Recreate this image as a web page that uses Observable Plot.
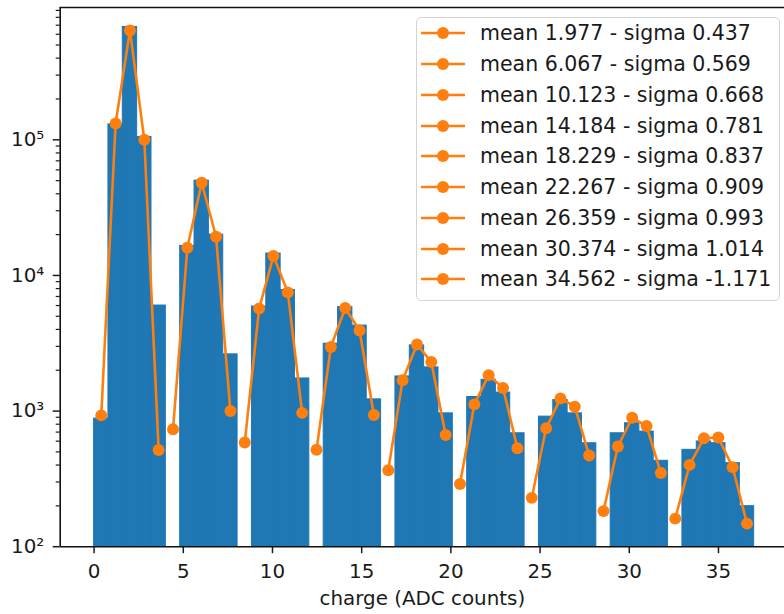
<!DOCTYPE html>
<html><head><meta charset="utf-8">
<script src="https://cdn.jsdelivr.net/npm/d3@7"></script>
<script src="https://cdn.jsdelivr.net/npm/@observablehq/plot@0.6"></script>
<style>
html,body{margin:0;padding:0;background:#fff;overflow:hidden;}
#wrap{position:relative;width:784px;height:614px;overflow:hidden;}
#legend{position:absolute;left:416px;top:17px;width:364px;height:284px;border:1px solid #d4d4d4;border-radius:5px;background:rgba(255,255,255,0.8);font-family:"DejaVu Sans";font-size:20.5px;color:#1a1a1a;box-sizing:border-box;padding-top:0px;}
.row{height:30.75px;display:flex;align-items:center;white-space:nowrap;}
.row svg{margin-left:4px;margin-right:15px;flex:none;}
</style></head><body><div id="wrap"><div id="chart"></div><div id="legend"></div></div>
<script>
// histogram definition
const nBins = 46;
const histRange = [0, 37];
// counts per bin (0 = empty bin)
const binCounts = [
  880, 130000, 680000, 105000, 6000,
  0, 16500, 50000, 20000, 2620,
  0, 5900, 14500, 7800, 1740,
  0, 3140, 5840, 4270, 1220,
  0, 1800, 3050, 2100, 962,
  0, 1270, 1700, 1370, 686,
  0, 910, 1205, 962, 579,
  0, 686, 813, 706, 430,
  0, 518, 597, 580, 413, 199
];
// gaussian fits: bins used by each peak and fitted values
const peakBins = [
  [0,1,2,3,4],[5,6,7,8,9],[10,11,12,13,14],[15,16,17,18,19],[20,21,22,23,24],
  [25,26,27,28,29],[30,31,32,33,34],[35,36,37,38,39],[40,41,42,43,44,45]
];
const fitValues = [
  [930, 132000, 640000, 100000, 517],
  [734, 16000, 48200, 19300, 1000],
  [587, 5700, 13900, 7500, 970],
  [518, 2970, 5760, 3930, 935],
  [366, 1690, 3100, 2300, 667],
  [290, 1120, 1840, 1480, 532],
  [229, 746, 1240, 1077, 471],
  [183, 548, 893, 776, 349],
  [161, 401, 630, 638, 385, 148]
];
const fitMeans = ["1.977","6.067","10.123","14.184","18.229","22.267","26.359","30.374","34.562"];
const fitSigmas = ["0.437","0.569","0.668","0.781","0.837","0.909","0.993","1.014","-1.171"];
const xTicks = [0, 5, 10, 15, 20, 25, 30, 35];
const yMajorTicks = [1e2, 1e3, 1e4, 1e5];
const xLabel = "charge (ADC counts)";

const blue = "#1f77b4", orange = "#ff7f0e";
const binWidth = (histRange[1] - histRange[0]) / nBins;
const bars = binCounts.map((c, i) => ({x1: histRange[0] + i*binWidth, x2: histRange[0] + (i+1)*binWidth, count: c})).filter(d => d.count > 0);
const fits = [];
peakBins.forEach((bins, p) => bins.forEach((b, j) => fits.push({peak: p, x: histRange[0] + (b + 0.5)*binWidth, y: fitValues[p][j]})));

const xDomain = [-1.9, 38.7];
const yDomain = [100, 9.46e5];
const minorTicks = [];
for (const base of [1e2, 1e3, 1e4, 1e5]) for (let k = 2; k <= 9; k++) if (base*k <= yDomain[1]) minorTicks.push(base*k);
const sup = {"0":"⁰","1":"¹","2":"²","3":"³","4":"⁴","5":"⁵","6":"⁶"};
const fmt = d => "10" + String(Math.round(Math.log10(d))).split("").map(c => sup[c]).join("");

const chart = Plot.plot({
  width: 788, height: 614,
  marginLeft: 60, marginRight: 0, marginTop: 7, marginBottom: 65,
  style: {fontFamily: "DejaVu Sans", fontSize: "20px", color: "#1a1a1a", background: "white"},
  x: {domain: xDomain},
  y: {type: "log", domain: yDomain},
  marks: [
    Plot.rect(bars, {x1: "x1", x2: "x2", y1: () => yDomain[0], y2: "count", fill: blue, stroke: blue, strokeWidth: 1}),
    Plot.line(fits, {x: "x", y: "y", z: "peak", stroke: orange, strokeWidth: 2.6}),
    Plot.dot(fits, {x: "x", y: "y", r: 6, fill: orange}),
    Plot.axisX(xTicks, {tickSize: 7, tickPadding: 10, strokeWidth: 1.5, label: xLabel, labelAnchor: "center", labelArrow: "none", labelOffset: 59}),
    Plot.axisY(yMajorTicks, {tickSize: 7, tickPadding: 9, strokeWidth: 1.5, tickFormat: fmt, label: null}),
    Plot.axisY(minorTicks, {tickSize: 4, strokeWidth: 1.2, tickFormat: () => "", label: null}),
    Plot.ruleX([xDomain[0]], {stroke: "#111", strokeWidth: 1.6}),
    Plot.ruleY([yDomain[0], yDomain[1]], {stroke: "#111", strokeWidth: 1.6})
  ]
});
document.getElementById("chart").appendChild(chart);

const legend = document.getElementById("legend");
fitMeans.forEach((m, i) => {
  const row = document.createElement("div");
  row.className = "row";
  row.innerHTML = `<svg width="44" height="14"><line x1="0" x2="44" y1="7" y2="7" stroke="${orange}" stroke-width="2.6"/><circle cx="22" cy="7" r="6" fill="${orange}"/></svg><span>mean ${m} - sigma ${fitSigmas[i]}</span>`;
  legend.appendChild(row);
});
</script></body></html>
